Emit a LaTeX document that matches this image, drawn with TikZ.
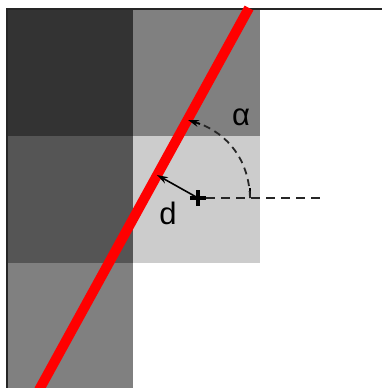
\documentclass[tikz,border=0pt]{standalone}
\usepackage{fontspec}
\setmainfont{Liberation Sans}
\usetikzlibrary{arrows.meta}
\definecolor{cA}{HTML}{333333}
\definecolor{cB}{HTML}{808080}
\definecolor{cC}{HTML}{555555}
\definecolor{cD}{HTML}{CCCCCC}
\tikzset{
  lbl/.style={font=\fontsize{31}{31}\selectfont, inner sep=0pt},
  dashline/.style={dash pattern=on 9pt off 6pt, line width=1.8pt, black!85},
  arr/.style={-{Stealth[length=11pt,width=7pt]}, line width=1.6pt}
}
\begin{document}
\begin{tikzpicture}[x=1pt,y=-1pt]
\useasboundingbox (0,0) rectangle (382,388);
\fill[white] (0,0) rectangle (382,388);
% cells
\fill[cA] (7,10) rectangle (133,136);
\fill[cB] (133,10) rectangle (260,136);
\fill[cC] (7,136) rectangle (133,263);
\fill[cD] (133,136) rectangle (260,263);
\fill[cB] (7,263) rectangle (133,388);
% frame
\draw[line width=1.6pt, black!85] (6,9) -- (382,9);
\draw[line width=1.6pt, black!85] (7,9) -- (7,388);
% red line
\coordinate (rtop) at (249,8);
\coordinate (rbot) at (39,390);
\draw[red, line width=10pt] (rbot) -- (rtop);
% center
\node[inner sep=0pt, minimum size=16pt] (c) at (198,198) {};
\draw[line width=3.2pt] (190,198) -- (206,198) (198,190) -- (198,206);
\coordinate (foot) at (157,175);
\coordinate (aend) at (188,120);
\coordinate (astart) at (250,198);
\coordinate (hend) at (322,198);
% dashed horizontal
\draw[dashline] (c.east) -- (hend);
% tick
\draw[line width=1.4pt] (250,188) -- (250,198);
% angle arc
\draw[dashline, dash pattern=on 7pt off 5pt] (astart) .. controls (249,160) and (228,134) .. (198,123);
\draw[arr] (200,124) -- (aend);
% d arrow
\draw[arr] (c.center) -- (foot);
% labels
\node[lbl] (alpha) at (241,117) {α};
\node[lbl] (d) at (168,213) {d};
\end{tikzpicture}
\end{document}
